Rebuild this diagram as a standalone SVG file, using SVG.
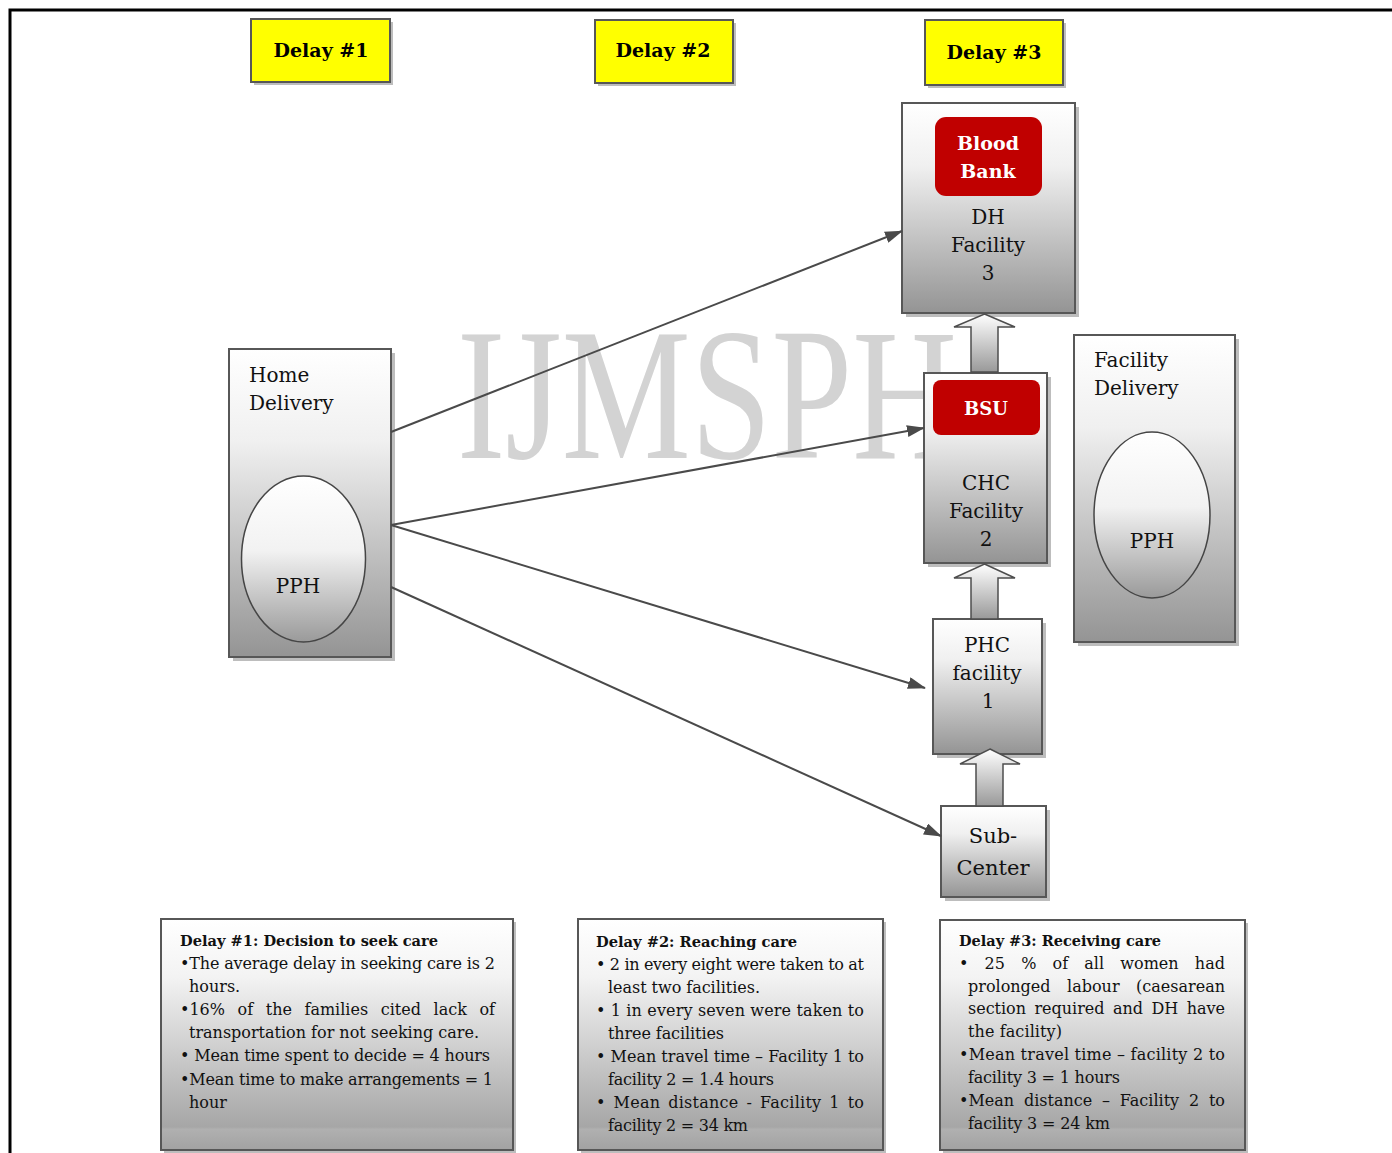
<svg xmlns="http://www.w3.org/2000/svg" width="1392" height="1153" viewBox="0 0 1392 1153">
<defs>
<linearGradient id="gBox" x1="0" y1="0" x2="0" y2="1">
<stop offset="0" stop-color="#ffffff"/><stop offset="0.3" stop-color="#f0f0f0"/><stop offset="1" stop-color="#949494"/>
</linearGradient>
<linearGradient id="gEll" x1="0" y1="0" x2="0" y2="1">
<stop offset="0" stop-color="#ffffff"/><stop offset="0.45" stop-color="#f2f2f2"/><stop offset="1" stop-color="#9a9a9a"/>
</linearGradient>
<linearGradient id="gArr" x1="0" y1="0" x2="0" y2="1">
<stop offset="0" stop-color="#ffffff"/><stop offset="1" stop-color="#999999"/>
</linearGradient>
<linearGradient id="gTxt" x1="0" y1="0" x2="0" y2="1">
<stop offset="0" stop-color="#ffffff"/><stop offset="0.25" stop-color="#f3f3f3"/><stop offset="0.9" stop-color="#a6a6a6"/><stop offset="0.91" stop-color="#b0b0b0"/><stop offset="1" stop-color="#a2a2a2"/>
</linearGradient>
<marker id="ah" markerWidth="18" markerHeight="12" refX="17" refY="6" orient="auto" markerUnits="userSpaceOnUse">
<path d="M0,0 L18,6 L0,12 Z" fill="#4a4a4a"/>
</marker>
<style>
.sh{fill:#bdbdbd}
.box{fill:url(#gBox);stroke:#575757;stroke-width:2}
.tbox{fill:url(#gTxt);stroke:#575757;stroke-width:2}
.ell{fill:url(#gEll);stroke:#454545;stroke-width:1.5}
.ylw{fill:#ffff00;stroke:#575757;stroke-width:2}
.red{fill:#c00000}
.barr{fill:url(#gArr);stroke:#4d4d4d;stroke-width:1.5}
.con{stroke:#4a4a4a;stroke-width:2;fill:none;marker-end:url(#ah)}
.lbl{font-family:"DejaVu Serif",serif;font-size:20px;fill:#111}
.c{text-anchor:middle}
.bw{font-family:"DejaVu Serif",serif;font-weight:bold;fill:#fff;text-anchor:middle}
.dl{font-family:"DejaVu Serif",serif;font-weight:bold;font-size:19px;fill:#000;text-anchor:middle}
.bt{font-family:"DejaVu Serif",serif;font-size:16px;fill:#111}
.bh{font-family:"DejaVu Serif",serif;font-size:15px;font-weight:bold;fill:#111}
.wm{font-family:"Liberation Serif",serif;font-size:189px;fill:#d3d3d3}
</style>
</defs>
<rect width="1392" height="1153" fill="#ffffff"/>
<path d="M10,1153 V10 H1392" fill="none" stroke="#000" stroke-width="3"/>

<text class="wm" x="457" y="458" textLength="500" lengthAdjust="spacingAndGlyphs">IJMSPH</text>

<g id="delay1-label">
<rect class="sh" x="254" y="22" width="139" height="63"/>
<rect class="ylw" x="251" y="19" width="139" height="63"/>
<text class="dl" x="321" y="57">Delay #1</text>
</g>
<g id="delay2-label">
<rect class="sh" x="598" y="23" width="138" height="63"/>
<rect class="ylw" x="595" y="20" width="138" height="63"/>
<text class="dl" x="663" y="57">Delay #2</text>
</g>
<g id="delay3-label">
<rect class="sh" x="928" y="23" width="138" height="65"/>
<rect class="ylw" x="925" y="20" width="138" height="65"/>
<text class="dl" x="994" y="59">Delay #3</text>
</g>

<g id="home-delivery">
<rect class="sh" x="233" y="353" width="162" height="308"/>
<rect class="box" x="229" y="349" width="162" height="308"/>
<text class="lbl" x="249" y="382">Home</text>
<text class="lbl" x="249" y="410">Delivery</text>
<ellipse class="ell" cx="303.5" cy="559" rx="62" ry="83"/>
<text class="lbl c" x="298" y="593">PPH</text>
</g>

<g id="dh-facility">
<rect class="sh" x="906" y="107" width="173" height="210"/>
<rect class="box" x="902" y="103" width="173" height="210"/>
<rect class="red" x="935" y="117" width="107" height="79" rx="11"/>
<text class="bw" x="988" y="150" font-size="19">Blood</text>
<text class="bw" x="988" y="178" font-size="19">Bank</text>
<text class="lbl c" x="988" y="224">DH</text>
<text class="lbl c" x="988" y="252">Facility</text>
<text class="lbl c" x="988" y="280">3</text>
</g>

<g id="chc-facility">
<rect class="sh" x="928" y="377" width="123" height="190"/>
<rect class="box" x="924" y="373" width="123" height="190"/>
<rect class="red" x="933" y="380" width="107" height="55" rx="8"/>
<text class="bw" x="986" y="415" font-size="18">BSU</text>
<text class="lbl c" x="986" y="490">CHC</text>
<text class="lbl c" x="986" y="518">Facility</text>
<text class="lbl c" x="986" y="546">2</text>
</g>

<g id="phc-facility">
<rect class="sh" x="937" y="623" width="109" height="135"/>
<rect class="box" x="933" y="619" width="109" height="135"/>
<text class="lbl c" x="987" y="652">PHC</text>
<text class="lbl c" x="987" y="680">facility</text>
<text class="lbl c" x="988" y="708">1</text>
</g>

<g id="sub-center">
<rect class="sh" x="945" y="810" width="105" height="91"/>
<rect class="box" x="941" y="806" width="105" height="91"/>
<text class="lbl c" x="993" y="843" style="font-size:21px">Sub-</text>
<text class="lbl c" x="993" y="875" style="font-size:21px">Center</text>
</g>

<g id="facility-delivery">
<rect class="sh" x="1078" y="339" width="161" height="307"/>
<rect class="box" x="1074" y="335" width="161" height="307"/>
<text class="lbl" x="1094" y="367">Facility</text>
<text class="lbl" x="1094" y="395">Delivery</text>
<ellipse class="ell" cx="1152" cy="515" rx="58" ry="83"/>
<text class="lbl c" x="1152" y="548">PPH</text>
</g>

<g id="connectors">
<line class="con" x1="391" y1="432" x2="902" y2="231"/>
<line class="con" x1="391" y1="525" x2="924" y2="428"/>
<line class="con" x1="391" y1="525" x2="925" y2="688"/>
<line class="con" x1="391" y1="587" x2="941" y2="836"/>
<polygon class="barr" points="984.5,314 1015,327 998,327 998,372 971,372 971,327 954,327"/>
<polygon class="barr" points="984.5,564 1015,578 998,578 998,619 971,619 971,578 954,578"/>
<polygon class="barr" points="990,749 1020,764 1003,764 1003,806 976,806 976,764 960,764"/>
</g>

<g id="delay1-box">
<rect class="sh" x="164" y="922" width="352" height="231"/>
<rect class="tbox" x="161" y="919" width="352" height="231"/>
<text class="bh" x="180" y="946" textLength="258" lengthAdjust="spacingAndGlyphs">Delay #1:  Decision to seek care</text>
<text class="bt" x="180" y="969" textLength="315">•The average delay in seeking care is 2</text>
<text class="bt" x="189" y="992">hours.</text>
<text class="bt" x="180" y="1015" textLength="315" style="word-spacing:7.5px">•16% of the families cited lack of</text>
<text class="bt" x="189" y="1038" textLength="290">transportation for not seeking care.</text>
<text class="bt" x="180" y="1061" textLength="310">• Mean time spent to decide = 4 hours</text>
<text class="bt" x="180" y="1085" textLength="313">•Mean time to make arrangements = 1</text>
<text class="bt" x="189" y="1108">hour</text>
</g>

<g id="delay2-box">
<rect class="sh" x="581" y="922" width="305" height="231"/>
<rect class="tbox" x="578" y="919" width="305" height="231"/>
<text class="bh" x="596" y="947" textLength="201" lengthAdjust="spacingAndGlyphs">Delay #2:  Reaching care</text>
<text class="bt" x="596" y="970" textLength="268">• 2 in every eight were taken to at</text>
<text class="bt" x="608" y="993" textLength="152">least two facilities.</text>
<text class="bt" x="596" y="1016" textLength="268">• 1 in every seven were taken to</text>
<text class="bt" x="608" y="1039" textLength="116">three facilities</text>
<text class="bt" x="596" y="1062" textLength="268">• Mean travel time – Facility 1 to</text>
<text class="bt" x="608" y="1085" textLength="166">facility 2 = 1.4 hours</text>
<text class="bt" x="596" y="1108" textLength="268" style="word-spacing:2.6px">• Mean distance - Facility 1 to</text>
<text class="bt" x="608" y="1131" textLength="140">facility 2 = 34 km</text>
</g>

<g id="delay3-box">
<rect class="sh" x="943" y="923" width="305" height="230"/>
<rect class="tbox" x="940" y="920" width="305" height="230"/>
<text class="bh" x="959" y="946" textLength="202" lengthAdjust="spacingAndGlyphs">Delay #3: Receiving care</text>
<text class="bt" x="959" y="969" textLength="266" style="word-spacing:11px">• 25 % of all women had</text>
<text class="bt" x="968" y="992" textLength="257" style="word-spacing:11.5px">prolonged labour (caesarean</text>
<text class="bt" x="968" y="1014" textLength="257" style="word-spacing:3.4px">section required and DH have</text>
<text class="bt" x="968" y="1037" textLength="94">the facility)</text>
<text class="bt" x="959" y="1060" textLength="266">•Mean travel time – facility 2 to</text>
<text class="bt" x="968" y="1083" textLength="152">facility 3 = 1 hours</text>
<text class="bt" x="959" y="1106" textLength="266" style="word-spacing:4.7px">•Mean distance – Facility 2 to</text>
<text class="bt" x="968" y="1129" textLength="142">facility 3 = 24 km</text>
</g>
</svg>
